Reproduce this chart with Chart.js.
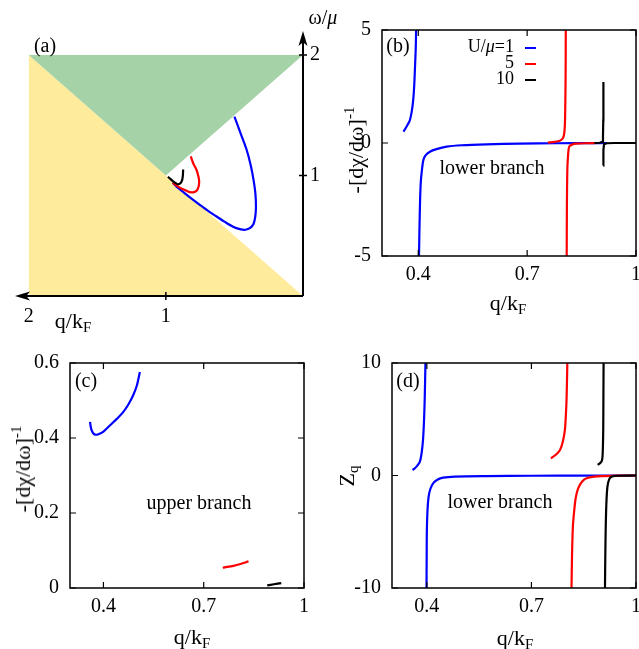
<!DOCTYPE html>
<html><head><meta charset="utf-8">
<script src="https://cdn.jsdelivr.net/npm/chart.js@4.4.1/dist/chart.umd.min.js"></script>
<style>
html,body{margin:0;padding:0;background:#fff;}
#wrap{position:relative;width:639px;height:649px;overflow:hidden;background:#fff;}
canvas{position:absolute;left:0;top:0;}
.t{position:absolute;font-family:'Liberation Serif','Times New Roman',serif;font-size:20px;line-height:1;white-space:nowrap;transform:translate(-50%,-50%);color:#000;z-index:5;}
.r{transform:translate(-50%,-50%) rotate(-90deg);}
.big{font-size:22px;}
sub{font-size:68%;vertical-align:-0.3em;line-height:0;}
sup{font-size:68%;vertical-align:0.6em;line-height:0;}
</style></head><body>
<div id="wrap">
<canvas id="ca" width="639" height="649"></canvas>
<canvas id="cb" width="639" height="649"></canvas>
<canvas id="cc" width="639" height="649"></canvas>
<canvas id="cd" width="639" height="649"></canvas>
<div class="t" style="left:45px;top:45px">(a)</div>
<div class="t" style="left:398px;top:45px">(b)</div>
<div class="t" style="left:86px;top:380px">(c)</div>
<div class="t" style="left:408px;top:380px">(d)</div>
<div class="t" style="left:492px;top:167px">lower branch</div>
<div class="t" style="left:199px;top:502px">upper branch</div>
<div class="t" style="left:500px;top:501px">lower branch</div>
<div class="t big" style="left:73px;top:321px">q/k<sub>F</sub></div>
<div class="t" style="left:323px;top:17px">ω/<i>μ</i></div>
<div class="t big" style="left:508px;top:303px">q/k<sub>F</sub></div>
<div class="t big" style="left:192px;top:637px">q/k<sub>F</sub></div>
<div class="t big" style="left:515px;top:638px">q/k<sub>F</sub></div>
<div class="t big r" style="left:356px;top:150px">-[dχ/dω]<sup>-1</sup></div>
<div class="t big r" style="left:23px;top:469px">-[dχ/dω]<sup>-1</sup></div>
<div class="t big r" style="left:347px;top:476px">Z<sub>q</sub></div>
</div>
<script>
// ---------- data ----------
const seriesColors = ['#0000ff', '#ff0000', '#000000'];
const legendLabels = ['U/μ=1', '5', '10'];

// panel (a): regions and dispersion curves (q/kF, ω/μ)
const aYellow = [[0, 0], [2, 2]];
const aGreen = [[0, 2], [1, 1], [2, 2]];
const aBlue = [[0.50,1.49],[0.455,1.35],[0.41,1.21],[0.38,1.08],[0.36,0.96],[0.347,0.85],[0.343,0.74],[0.348,0.66],[0.36,0.60],[0.385,0.565],[0.42,0.55],[0.46,0.555],[0.51,0.575],[0.57,0.615],[0.63,0.66],[0.69,0.705],[0.75,0.755],[0.82,0.815],[0.87,0.86],[0.92,0.905],[0.95,0.94]];
const aRed = [[0.818,1.16],[0.80,1.10],[0.776,1.046],[0.762,0.99],[0.757,0.95],[0.762,0.905],[0.776,0.874],[0.795,0.862],[0.813,0.86],[0.84,0.868],[0.861,0.88],[0.89,0.895],[0.922,0.916],[0.95,0.94]];
const aBlack = [[0.985,0.99],[0.965,0.97],[0.94,0.945],[0.915,0.928],[0.895,0.935],[0.882,0.96],[0.876,1.0],[0.874,1.05]];
const aXTicks = [1, 2];
const aXLabels = ['1', '2'];
const aYTicks = [1, 2];
const aYLabels = ['1', '2'];

// panel (b): -[dχ/dω]^-1, lower branch
const bBlueUp = [[0.359,0.5],[0.365,0.65],[0.372,0.85],[0.377,1.02],[0.382,1.4],[0.386,1.9],[0.389,2.6],[0.391,3.38],[0.393,4.2],[0.394,5.0]];
const bBlueLo = [[0.402,-5],[0.403,-4],[0.404,-3.2],[0.405,-2.5],[0.407,-1.7],[0.41,-1.2],[0.414,-0.75],[0.42,-0.55],[0.432,-0.385],[0.45,-0.27],[0.478,-0.16],[0.52,-0.1],[0.588,-0.06],[0.68,-0.03],[0.78,-0.012],[0.88,-0.003],[0.92,0]];
const bRedUp = [[0.757,0.02],[0.775,0.05],[0.79,0.1],[0.798,0.2],[0.802,0.4],[0.804,0.8],[0.805,1.5],[0.806,3],[0.8065,5]];
const bRedLo = [[0.809,-5],[0.8095,-3],[0.81,-2],[0.811,-1.05],[0.813,-0.5],[0.816,-0.16],[0.825,-0.06],[0.836,-0.03],[0.86,-0.01],[0.892,0]];
const bBlackUp = [[0.885,0.0],[0.9,0.01],[0.907,0.05],[0.909,0.3],[0.9098,1.0],[0.9102,2.7]];
const bBlackLo = [[0.9098,-1.0],[0.9102,-0.3],[0.912,-0.05],[0.92,-0.01],[0.94,0],[1.0,0]];
const qTicks = [0.4, 0.7, 1];
const qLabels = ['0.4', '0.7', '1'];
const bYTicks = [-5, 0, 5];
const bYLabels = ['-5', '0', '5'];

// panel (c): upper branch
const cBlue = [[0.36,0.443],[0.362,0.43],[0.365,0.42],[0.37,0.412],[0.375,0.409],[0.382,0.409],[0.39,0.412],[0.40,0.417],[0.42,0.434],[0.44,0.451],[0.459,0.469],[0.475,0.49],[0.489,0.514],[0.50,0.54],[0.509,0.576]];
const cRed = [[0.757,0.054],[0.775,0.057],[0.789,0.059],[0.81,0.064],[0.834,0.071]];
const cBlack = [[0.89,0.007],[0.91,0.01],[0.932,0.013]];
const cYTicks = [0, 0.2, 0.4, 0.6];
const cYLabels = ['0', '0.2', '0.4', '0.6'];

// panel (d): Z_q, lower branch
const dBlueUp = [[0.359,0.49],[0.365,0.62],[0.372,0.85],[0.38,1.23],[0.385,2.0],[0.389,3.16],[0.392,5.0],[0.394,7.0],[0.396,10]];
const dBlueLo = [[0.399,-10],[0.3995,-7],[0.4,-4.86],[0.402,-3.0],[0.405,-1.89],[0.41,-1.2],[0.418,-0.7],[0.43,-0.38],[0.447,-0.19],[0.48,-0.1],[0.571,-0.05],[0.7,-0.02],[0.85,-0.005],[1.0,0]];
const dRedUp = [[0.756,1.53],[0.77,1.85],[0.782,2.27],[0.79,3.0],[0.796,4.05],[0.799,5.5],[0.801,7.0],[0.803,10]];
const dRedLo = [[0.815,-10],[0.816,-8],[0.817,-6.35],[0.819,-4.5],[0.822,-3.37],[0.827,-2.0],[0.834,-1.14],[0.845,-0.55],[0.858,-0.25],[0.88,-0.1],[0.906,-0.05],[0.95,-0.01],[1.0,0]];
const dBlackUp = [[0.89,0.94],[0.897,1.1],[0.902,1.3],[0.904,1.7],[0.905,2.5],[0.906,4.05],[0.9065,7],[0.907,10]];
const dBlackLo = [[0.911,-10],[0.912,-7],[0.913,-4.86],[0.915,-2.5],[0.918,-1.0],[0.923,-0.35],[0.93,-0.1],[0.95,-0.02],[1.0,0]];
const dYTicks = [-10, 0, 10];
const dYLabels = ['-10', '0', '10'];

// ---------- helpers ----------
const FONT = "'Liberation Serif','Times New Roman',serif";
const pts = a => a.map(p => ({x: p[0], y: p[1]}));
function line(data, color, order, tension) {
  return {data: pts(data), showLine: true, borderColor: color, borderWidth: 2.2, pointRadius: 0,
          tension: tension === undefined ? 0.3 : tension, fill: false, order: order};
}
function scale(axis, min, max, ticks, labels, extra, pad) {
  const s = {
    type: 'linear', min: min, max: max,
    afterBuildTicks: sc => { sc.ticks = ticks.map(v => ({value: v})); },
    afterFit: sc => {
      if (axis === 'x') { sc.height = 40; sc.paddingLeft = 0; sc.paddingRight = 0; }
      else { sc.width = 40; sc.paddingTop = 0; sc.paddingBottom = 0; }
    },
    grid: {display: false, drawTicks: false}, border: {display: false},
    ticks: {autoSkip: false, maxRotation: 0, minRotation: 0, padding: pad !== undefined ? pad : (axis === 'x' ? 7 : 11), color: '#000',
            font: {family: FONT, size: 20}, callback: v => labels[ticks.indexOf(v)]}
  };
  return Object.assign(s, extra || {});
}

const deco = {
  id: 'deco',
  afterDatasetsDraw(chart, args, o) {
    const ctx = chart.ctx, ca = chart.chartArea, x = chart.scales.x, y = chart.scales.y;
    ctx.save();
    ctx.strokeStyle = '#000'; ctx.fillStyle = '#000';
    if (o.frame) {
      ctx.lineWidth = 1.5;
      ctx.strokeRect(ca.left, ca.top, ca.right - ca.left, ca.bottom - ca.top);
      const L = 6;
      ctx.lineWidth = 1.2;
      ctx.beginPath();
      x.ticks.forEach(t => { const p = x.getPixelForValue(t.value);
        ctx.moveTo(p, ca.bottom); ctx.lineTo(p, ca.bottom - L); ctx.moveTo(p, ca.top); ctx.lineTo(p, ca.top + L); });
      y.ticks.forEach(t => { const p = y.getPixelForValue(t.value);
        ctx.moveTo(ca.left, p); ctx.lineTo(ca.left + L, p); ctx.moveTo(ca.right, p); ctx.lineTo(ca.right - L, p); });
      ctx.stroke();
    }
    if (o.arrows) {
      const ox = x.getPixelForValue(0), oy = y.getPixelForValue(0);
      ctx.lineWidth = 2;
      ctx.beginPath();
      ctx.moveTo(ox, oy); ctx.lineTo(ca.left + 10, oy);
      ctx.moveTo(ox, oy); ctx.lineTo(ox, ca.top + 10);
      ctx.stroke();
      const len = 15, hw = 4.5;
      ctx.beginPath();
      ctx.moveTo(ca.left, oy); ctx.lineTo(ca.left + len, oy - hw); ctx.lineTo(ca.left + len * 0.75, oy); ctx.lineTo(ca.left + len, oy + hw); ctx.closePath();
      ctx.moveTo(ox, ca.top); ctx.lineTo(ox - hw, ca.top + len); ctx.lineTo(ox, ca.top + len * 0.75); ctx.lineTo(ox + hw, ca.top + len); ctx.closePath();
      ctx.fill();
      ctx.lineWidth = 1.5;
      ctx.beginPath();
      x.ticks.forEach(t => { if (t.value < 2) { const p = x.getPixelForValue(t.value); ctx.moveTo(p, oy - 4); ctx.lineTo(p, oy + 4); } });
      y.ticks.forEach(t => { const p = y.getPixelForValue(t.value); ctx.moveTo(ox - 4, p); ctx.lineTo(ox + 4, p); });
      ctx.stroke();
    }
    if (o.legend) {
      const rx = ca.left + 132;
      legendLabels.forEach((lab, i) => {
        const yy = ca.top + 17 + 16 * i;
        ctx.textBaseline = 'middle';
        const parts = lab.indexOf('μ') >= 0 ? [[lab.split('μ')[0], ''], ['μ', 'italic '], [lab.split('μ')[1], '']] : [[lab, '']];
        let w = 0;
        parts.forEach(p => { ctx.font = p[1] + '18px ' + FONT; w += ctx.measureText(p[0]).width; });
        let cx = rx - w;
        ctx.fillStyle = '#000';
        parts.forEach(p => { ctx.font = p[1] + '18px ' + FONT; ctx.fillText(p[0], cx, yy); cx += ctx.measureText(p[0]).width; });
        ctx.strokeStyle = seriesColors[i]; ctx.lineWidth = 2;
        ctx.beginPath(); ctx.moveTo(rx + 11, yy + 1); ctx.lineTo(rx + 22, yy + 1); ctx.stroke();
      });
    }
    ctx.restore();
  }
};

function makeChart(id, datasets, padding, scales, decoOpts) {
  return new Chart(document.getElementById(id), {
    type: 'scatter',
    data: {datasets: datasets},
    options: {
      responsive: false, animation: false, devicePixelRatio: 1,
      layout: {autoPadding: false, padding: padding},
      plugins: {legend: {display: false}, tooltip: {enabled: false}, deco: decoOpts},
      scales: scales
    },
    plugins: [deco]
  });
}

// (a)
makeChart('ca', [
  {data: pts(aYellow), showLine: true, borderWidth: 0, borderColor: 'rgba(0,0,0,0)', pointRadius: 0, fill: 'origin', backgroundColor: '#feeb9b', order: 10, tension: 0},
  {data: pts(aGreen), showLine: true, borderWidth: 0, borderColor: 'rgba(0,0,0,0)', pointRadius: 0, fill: {value: 2}, backgroundColor: '#a6d2a8', order: 9, tension: 0},
  line(aBlue, seriesColors[0], 2),
  line(aRed, seriesColors[1], 1),
  line(aBlack, seriesColors[2], 0)
], {left: 15, right: 296, top: 31, bottom: 313}, {
  x: scale('x', 0, 2.1, aXTicks, aXLabels, {reverse: true}, 9),
  y: scale('y', 0, 2.2, aYTicks, aYLabels, {position: 'right'}, 7)
}, {arrows: true});

// (b)
makeChart('cb', [
  line(bBlueUp, seriesColors[0], 2), line(bBlueLo, seriesColors[0], 2),
  line(bRedUp, seriesColors[1], 1), line(bRedLo, seriesColors[1], 1),
  line(bBlackUp, seriesColors[2], 0, 0), line(bBlackLo, seriesColors[2], 0, 0)
], {left: 342, right: 3, top: 30, bottom: 353}, {
  x: scale('x', 0.3, 1, qTicks, qLabels),
  y: scale('y', -5, 5, bYTicks, bYLabels)
}, {frame: true, legend: true});

// (c)
makeChart('cc', [
  line(cBlue, seriesColors[0], 2), line(cRed, seriesColors[1], 1), line(cBlack, seriesColors[2], 0)
], {left: 30, right: 335, top: 363, bottom: 21}, {
  x: scale('x', 0.3, 1, qTicks, qLabels),
  y: scale('y', 0, 0.6, cYTicks, cYLabels)
}, {frame: true});

// (d)
makeChart('cd', [
  line(dBlueUp, seriesColors[0], 2), line(dBlueLo, seriesColors[0], 2),
  line(dRedUp, seriesColors[1], 1), line(dRedLo, seriesColors[1], 1),
  line(dBlackUp, seriesColors[2], 0), line(dBlackLo, seriesColors[2], 0)
], {left: 352, right: 3, top: 363, bottom: 21}, {
  x: scale('x', 0.3, 1, qTicks, qLabels),
  y: scale('y', -10, 10, dYTicks, dYLabels)
}, {frame: true});
</script>
</body></html>
